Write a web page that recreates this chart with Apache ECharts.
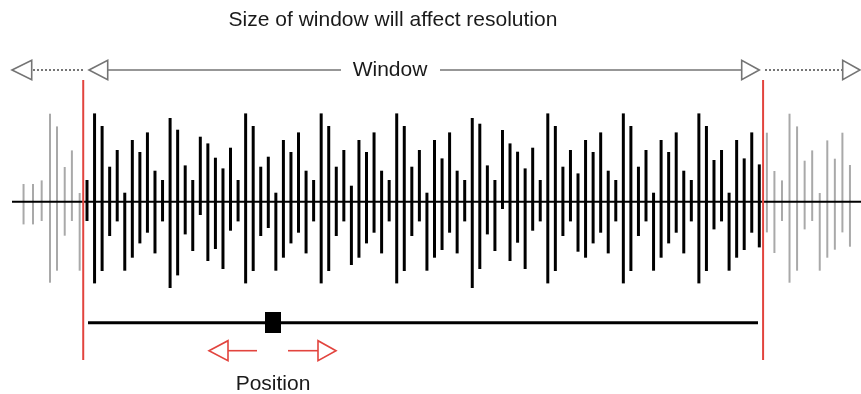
<!DOCTYPE html>
<html><head><meta charset="utf-8">
<script src="https://cdn.jsdelivr.net/npm/echarts@6/dist/echarts.min.js"></script>
<style>html,body{margin:0;padding:0;background:#fff}#c{width:861px;height:394px}</style>
</head><body><div id="c"></div>
<script>
// ---- text ----
const titleText = 'Size of window will affect resolution';
const windowLabel = 'Window';
const positionLabel = 'Position';

// ---- window boundaries (sample index units) ----
const windowStart = -0.5;
const windowEnd = 89.5;

// ---- samples left of the window (gray) ----
const leftT    = [-8.4, -7.15, -6.0, -4.9, -3.97, -2.95, -2.0, -0.97];
const leftUp   = [17.7, 17.7, 21.3, 88, 75.3, 34.7, 51.3, 8.7];
const leftDown = [22.7, 22.7, 19.3, 81, 69, 34, 19.3, 69];

// ---- samples inside the window (black), index 0..89 ----
const winUp = [
  21.7, 88.3, 75.7, 35, 51.7, 9, 61.7, 49.7, 69.3, 31,
  21.7, 83.7, 72, 36.3, 21.7, 65, 58.3, 44, 33.3, 54,
  21.7, 88.3, 75.7, 35, 45, 9, 61.7, 49.7, 69.3, 31,
  21.7, 88.3, 75.7, 35, 51.7, 16, 61.7, 49.7, 69.3, 31,
  21.7, 88.3, 75.7, 35, 51.7, 9, 61.7, 43.3, 69.3, 31,
  21.7, 83.7, 78, 36.3, 21.7, 71.7, 58.3, 50, 33.3, 54,
  21.7, 88.3, 75.7, 35, 51.7, 28.3, 61.7, 49.7, 69.3, 31,
  21.7, 88.3, 75.7, 35, 51.7, 9, 61.7, 49.7, 69.3, 31,
  21.7, 88.3, 75.7, 41.7, 51.7, 9, 61.7, 43.3, 69.3, 37.3
];
const winDown = [
  19.3, 81.7, 69.3, 34.3, 19.7, 69, 56, 41.7, 31, 51.7,
  19.7, 86.3, 73.7, 32.7, 49.3, 13.3, 59.3, 47.3, 67.3, 29,
  19.7, 81.7, 69.3, 34.3, 26.3, 69, 56, 41.7, 31, 51.7,
  19.7, 81.7, 69.3, 34.3, 19.7, 63.3, 56, 41.7, 31, 51.7,
  19.7, 81.7, 69.3, 34.3, 19.7, 69, 56, 48.3, 31, 51.7,
  19.7, 86.3, 67.3, 32.7, 49.3, 7.3, 59.3, 41, 67.3, 29,
  19.7, 81.7, 69.3, 34.3, 19.7, 50, 56, 41.7, 31, 51.7,
  19.7, 81.7, 69.3, 34.3, 19.7, 69, 56, 41.7, 31, 51.7,
  19.7, 81.7, 69.3, 27.7, 19.7, 69, 56, 48.3, 31, 45.7
];

// ---- samples right of the window (gray), index 90.. ----
const rightUp   = [69, 30.7, 21.3, 88, 75.3, 41, 51.3, 8.7, 61.3, 43, 69, 36.7];
const rightDown = [30.7, 51.3, 19.3, 81, 69, 27.7, 19.3, 69, 56, 48, 30.7, 45];

// ---- build data ----
const grayData = [];
leftT.forEach((t, i) => grayData.push([t, leftUp[i], -leftDown[i]]));
rightUp.forEach((u, i) => grayData.push([90 + i, u, -rightDown[i]]));
const blackData = winUp.map((u, i) => [i, u, -winDown[i]]);

function stemRenderer(color, width) {
  return function (params, api) {
    const p1 = api.coord([api.value(0), api.value(1)]);
    const p2 = api.coord([api.value(0), api.value(2)]);
    return { type: 'line', shape: { x1: p1[0], y1: p1[1], x2: p2[0], y2: p2[1] },
             style: { stroke: color, lineWidth: width } };
  };
}

const chart = echarts.init(document.getElementById('c'), null, { renderer: 'canvas' });
const FONT = '"Liberation Sans", Arial, Helvetica, sans-serif';
const gray = '#747474';
const red = '#e2443e';
function tri(points, color) {
  return { type: 'polygon', z: 20, shape: { points: points },
           style: { fill: '#fff', stroke: color, lineWidth: 1.6 } };
}
function seg(x1, y1, x2, y2, color, w, dash, z) {
  return { type: 'line', z: z || 20, shape: { x1, y1, x2, y2 },
           style: { stroke: color, lineWidth: w, lineDash: dash || null } };
}

chart.setOption({
  animation: false,
  grid: { left: 0, right: 0, top: 0, bottom: 0 },
  xAxis: { type: 'value', min: -11.517, max: 102.462, show: false },
  yAxis: { type: 'value', min: -192.3, max: 201.7, show: false },
  series: [
    { type: 'custom', z: 2, data: grayData, renderItem: stemRenderer('#a9a9a9', 2) },
    { type: 'custom', z: 3, data: blackData, renderItem: stemRenderer('#000', 3) },
    { type: 'custom', z: 6, data: [[windowStart, 121.7, -158.3], [windowEnd, 121.7, -158.3]],
      renderItem: stemRenderer(red, 2) }
  ],
  graphic: [
    // baseline
    seg(12, 201.7, 861, 201.7, '#000', 2, null, 5),
    // title
    { type: 'text', z: 20, x: 393, y: 20, style: { text: titleText, font: '21px ' + FONT,
      fill: '#1a1a1a', textAlign: 'center', textVerticalAlign: 'middle' } },
    // window arrow row
    { type: 'text', z: 20, x: 390, y: 70, style: { text: windowLabel, font: '21px ' + FONT,
      fill: '#1a1a1a', textAlign: 'center', textVerticalAlign: 'middle' } },
    seg(107, 70, 341, 70, gray, 1.6),
    seg(440, 70, 742, 70, gray, 1.6),
    seg(33, 70, 83, 70, '#555', 1.6, [2, 2]),
    seg(765, 70, 842, 70, '#555', 1.6, [2, 2]),
    tri([[12, 70], [31.7, 60.3], [31.7, 79.7]], gray),
    tri([[89, 70], [107.7, 60.3], [107.7, 79.7]], gray),
    tri([[759.3, 70], [741.7, 60.3], [741.7, 79.7]], gray),
    tri([[860, 70], [842.7, 60.3], [842.7, 79.7]], gray),
    // slider
    seg(88, 322.7, 758, 322.7, '#000', 3),
    { type: 'rect', z: 21, shape: { x: 265, y: 312, width: 16, height: 21 }, style: { fill: '#000' } },
    // red position arrows
    seg(228, 350.7, 257, 350.7, red, 1.6),
    tri([[209, 350.7], [228, 340.7], [228, 360.7]], red),
    seg(288, 350.7, 318, 350.7, red, 1.6),
    tri([[336, 350.7], [318, 340.7], [318, 360.7]], red),
    { type: 'text', z: 20, x: 273, y: 384, style: { text: positionLabel, font: '21px ' + FONT,
      fill: '#1a1a1a', textAlign: 'center', textVerticalAlign: 'middle' } }
  ]
});
</script>
</body></html>
